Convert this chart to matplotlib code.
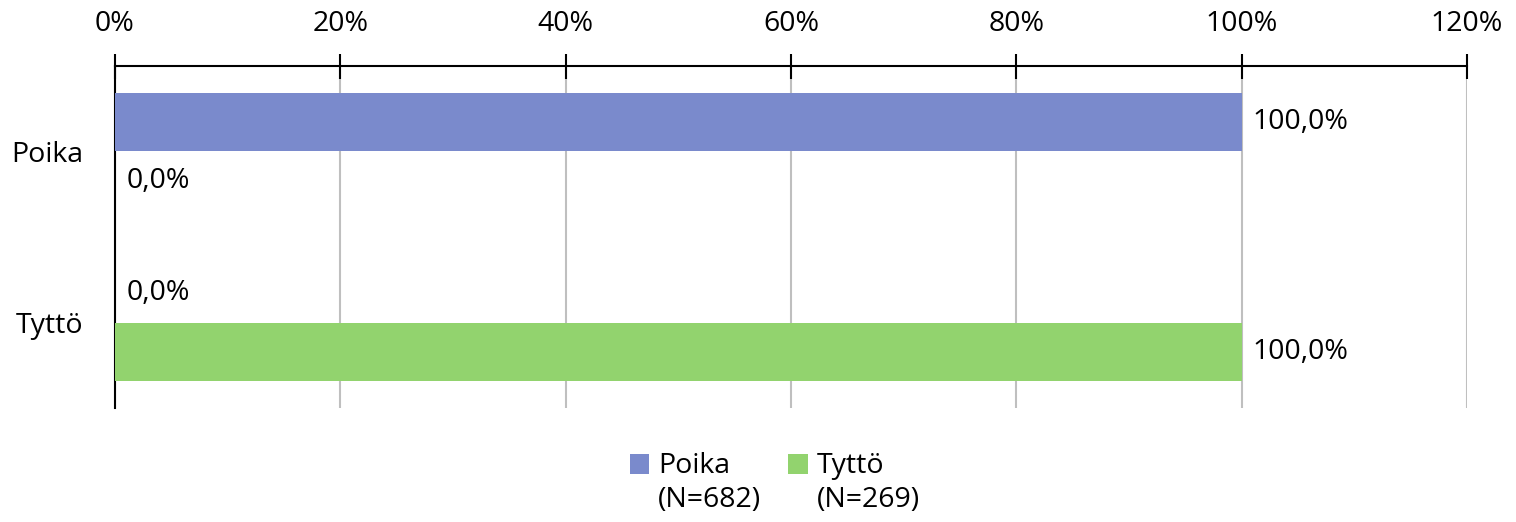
import matplotlib.pyplot as plt
import numpy as np

plt.rcParams['font.family'] = ['Open Sans', 'DejaVu Sans']

categories = ['Poika', 'Tyttö']
series_names = ['Poika\n(N=682)', 'Tyttö\n(N=269)']
poika_vals = [100.0, 0.0]
tytto_vals = [0.0, 100.0]
colors = ['#7A8ACC', '#92D36E']

fs = 20.5

fig = plt.figure(figsize=(15.16, 5.22), dpi=100)
ax = fig.add_axes([115/1516, 1 - 408/522, (1467 - 115)/1516, (408 - 66)/522])

y = np.arange(len(categories))
h = 0.335
off = 0.172
b1 = ax.barh(y - off, poika_vals, height=h, color=colors[0], label=series_names[0], zorder=3)
b2 = ax.barh(y + off, tytto_vals, height=h, color=colors[1], label=series_names[1], zorder=3)

for bars, vals in ((b1, poika_vals), (b2, tytto_vals)):
    for rect, v in zip(bars, vals):
        ax.text(v + 1.0, rect.get_y() + rect.get_height() / 2,
                f'{v:.1f}%'.replace('.', ','), va='center', ha='left', fontsize=fs)

ax.set_xlim(0, 120)
ax.set_ylim(1.5, -0.5)
ax.set_yticks(y)
ax.set_yticklabels(categories, fontsize=fs)
ax.tick_params(axis='y', length=0, pad=23)
ax.set_xticks(np.arange(0, 121, 20))
ax.set_xticklabels([f'{t}%' for t in range(0, 121, 20)], fontsize=fs)
ax.xaxis.tick_top()
ax.tick_params(axis='x', direction='inout', length=18, width=1.5, color='black', pad=11)
ax.grid(axis='x', color='#BFBFBF', linewidth=1.5, zorder=0)
for s in ['right', 'bottom']:
    ax.spines[s].set_visible(False)
ax.spines['top'].set_linewidth(1.5)
ax.spines['left'].set_linewidth(1.5)

leg = fig.legend(loc='upper center', bbox_to_anchor=(0.511, 0.184), ncol=2, frameon=False,
                 fontsize=fs, handlelength=0.7, handleheight=0.7, handletextpad=0.3,
                 columnspacing=0.95, labelspacing=0.2)
for t in leg.get_texts():
    t.set_linespacing(1.32)
# square marker sits next to the first line of each label
for p in leg.get_patches():
    p.set_y(p.get_y() + 0.68 * fs)

fig.savefig('out.png', dpi=100)
